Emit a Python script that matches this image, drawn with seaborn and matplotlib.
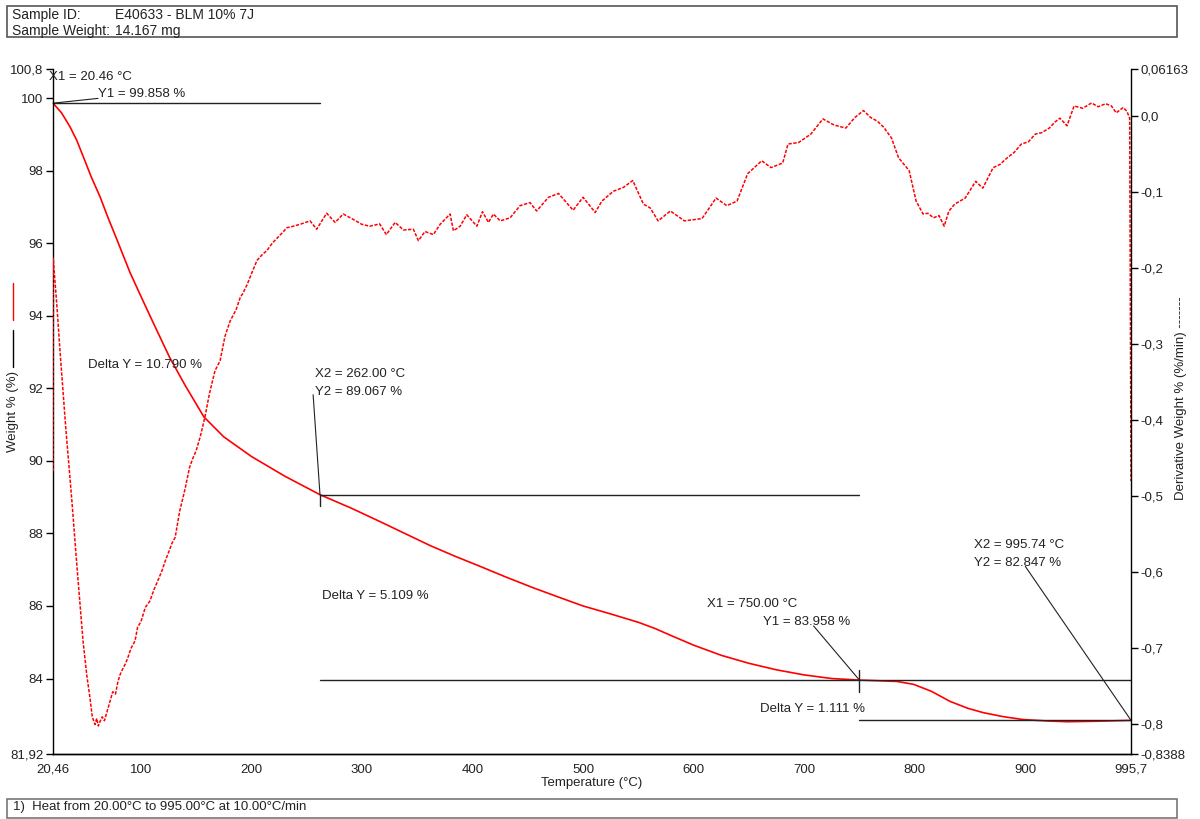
import matplotlib
matplotlib.use("Agg")
import matplotlib.pyplot as plt
from matplotlib.lines import Line2D
from matplotlib.patches import Rectangle
import seaborn as sns

TEMP_PESO = [20.46, 28, 35.8, 42, 47.9, 55, 63, 70, 78, 90, 99, 112, 126, 140,
             157, 175, 200, 230, 262, 290, 316, 340, 362, 385, 407, 430, 455,
             480, 500, 525, 550, 565, 580, 600, 625, 650, 675, 700, 725, 750,
             784, 799, 815, 832, 848, 862, 880, 898, 920, 938, 960, 980, 995.7]
PESO = [99.858, 99.6, 99.21, 98.83, 98.38, 97.83, 97.28, 96.72, 96.12, 95.2,
        94.6, 93.75, 92.85, 92.08, 91.21, 90.66, 90.12, 89.58, 89.067, 88.7,
        88.33, 87.98, 87.66, 87.36, 87.09, 86.8, 86.5, 86.22, 86.0, 85.78,
        85.55, 85.38, 85.18, 84.92, 84.64, 84.42, 84.24, 84.1, 84.0, 83.958,
        83.92, 83.84, 83.65, 83.37, 83.18, 83.06, 82.95, 82.87, 82.83, 82.81,
        82.82, 82.835, 82.847]

TEMP_DERIV = [20.46, 20.6, 24, 26.8, 32, 37.6, 42, 47.6, 51, 54, 56, 58.5, 60,
              61.5, 63, 65, 67, 69, 71, 74.5, 77, 79, 81, 83.8, 86, 88, 91,
              94.7, 97, 100, 104, 108, 112, 115, 119, 122, 126, 128, 131, 135,
              140, 144, 147, 150, 154, 158, 162, 167, 171.6, 176, 180.6, 186,
              190, 192, 196, 201, 205, 210, 214, 219, 225, 229, 232, 238,
              244, 253, 259, 268, 275.7, 283, 292, 299.8, 307, 316, 322, 330,
              337.5, 346.5, 351, 357, 364.6, 370.7, 379.7, 382.7, 388.8,
              394.8, 403.9, 409, 414.4, 418.9, 425, 434, 443, 452, 458, 468.7,
              477.8, 485, 491, 500, 511, 517, 527.5, 536.5, 545, 554.6, 560.7,
              567.9, 579, 591.7, 607.6, 620.3, 630, 639.3, 648.9, 661.6, 670,
              680.6, 685.4, 695, 706, 717, 727, 737.7, 746, 753.7, 760, 766.3,
              772, 779, 785.4, 795, 801.3, 807.6, 812, 817, 822, 826.7, 831,
              836.2, 845.7, 855.2, 861.6, 871, 877, 883.8, 890, 896.5, 903,
              909, 915, 921.8, 927, 931.4, 937.8, 944.2, 952, 960, 966, 972.8,
              978, 982.3, 988.6, 992, 994.5, 995.7]
DERIV = [-0.467, -0.187, -0.25, -0.309, -0.41, -0.507, -0.59, -0.69, -0.735,
         -0.766, -0.79, -0.80, -0.792, -0.802, -0.796, -0.79, -0.795, -0.785,
         -0.775, -0.757, -0.76, -0.745, -0.735, -0.726, -0.72, -0.713, -0.70,
         -0.69, -0.672, -0.665, -0.646, -0.638, -0.622, -0.612, -0.598,
         -0.585, -0.57, -0.562, -0.554, -0.52, -0.49, -0.462, -0.45, -0.44,
         -0.42, -0.395, -0.365, -0.335, -0.322, -0.29, -0.27, -0.255, -0.238,
         -0.234, -0.222, -0.204, -0.19, -0.182, -0.177, -0.167, -0.158,
         -0.152, -0.147, -0.145,
         -0.1425, -0.138, -0.149, -0.128, -0.140, -0.129, -0.136, -0.1425,
         -0.145, -0.142, -0.156, -0.140, -0.150, -0.149, -0.164, -0.152,
         -0.156, -0.1425, -0.129, -0.151, -0.145, -0.130, -0.145, -0.126,
         -0.140, -0.129, -0.138, -0.134, -0.118, -0.114, -0.125, -0.107,
         -0.102, -0.114, -0.124, -0.107, -0.127, -0.112, -0.099, -0.094,
         -0.085, -0.116, -0.121, -0.138, -0.125, -0.138, -0.135, -0.108,
         -0.118, -0.112, -0.076, -0.059, -0.068, -0.062, -0.037, -0.035,
         -0.024, -0.004, -0.012, -0.016, -0.002, 0.007, -0.002, -0.007,
         -0.015, -0.029, -0.055, -0.072, -0.112, -0.129, -0.128, -0.134,
         -0.131, -0.145, -0.125, -0.116, -0.108, -0.086, -0.095, -0.068,
         -0.064, -0.055, -0.048, -0.037, -0.034, -0.024, -0.022, -0.016,
         -0.008, -0.003, -0.013, 0.013, 0.010, 0.017, 0.012, 0.016, 0.013,
         0.004, 0.011, 0.006, -0.003, -0.48]

# cursores da análise (X, Y)
X_CUR = [20.46, 262.00, 750.00, 995.74]
Y_CUR = [99.858, 89.067, 83.958, 82.847]
DELTAS = ["Delta Y = 10.790 %", "Delta Y = 5.109 %", "Delta Y = 1.111 %"]

X_TICKS = [20.46, 100, 200, 300, 400, 500, 600, 700, 800, 900, 995.7]
X_LABELS = ["20,46", "100", "200", "300", "400", "500", "600", "700", "800",
            "900", "995,7"]
Y_TICKS = [81.92, 84, 86, 88, 90, 92, 94, 96, 98, 100, 100.8]
Y_LABELS = ["81,92", "84", "86", "88", "90", "92", "94", "96", "98", "100",
            "100,8"]
Y2_TICKS = [-0.8388, -0.8, -0.7, -0.6, -0.5, -0.4, -0.3, -0.2, -0.1, 0.0,
            0.06163]
Y2_LABELS = ["-0,8388", "-0,8", "-0,7", "-0,6", "-0,5", "-0,4", "-0,3",
             "-0,2", "-0,1", "0,0", "0,06163"]

sns.set_theme(style="white")
plt.rcParams["font.family"] = ["Liberation Sans", "DejaVu Sans"]
plt.rcParams["font.size"] = 9.5
TXT = "#222222"
W, H = 1200, 819


def px(x, y):
    """pixel da imagem -> fração da figura"""
    return x / W, 1 - y / H


fig = plt.figure(figsize=(12, 8.19), dpi=100)
ax = fig.add_axes([53 / W, 1 - 754 / H, (1131 - 53) / W, (754 - 69) / H])
ax2 = ax.twinx()

sns.lineplot(x=TEMP_PESO, y=PESO, ax=ax, color="#ff0000", linewidth=1.2,
             sort=False)
sns.lineplot(x=TEMP_DERIV, y=DERIV, ax=ax2, color="#ff0000", linewidth=1.1,
             sort=False)
ax2.lines[-1].set_dashes([2.2, 1.0])

ax.set_xlim(20.46, 995.7)
ax.set_ylim(81.92, 100.8)
ax2.set_ylim(-0.8388, 0.06163)
ax.set_xticks(X_TICKS, X_LABELS)
ax.set_yticks(Y_TICKS, Y_LABELS)
ax2.set_yticks(Y2_TICKS, Y2_LABELS)

for a in (ax, ax2):
    a.spines["top"].set_visible(False)
    for s in a.spines.values():
        s.set_color("black")
        s.set_linewidth(1.0)
    a.tick_params(direction="out", length=5, width=1, color="black",
                  labelcolor=TXT, labelsize=9.5, pad=2)
    a.grid(False)
ax.spines["right"].set_visible(False)
ax2.spines["left"].set_visible(False)
ax.set_xlabel("Temperature (°C)", color=TXT, fontsize=9.5, labelpad=1)
ax.set_ylabel("")
ax2.set_ylabel("")

# ---- linhas dos cursores ---------------------------------------------------
k = dict(color="#222222", lw=1.0)
ax.plot([X_CUR[0], X_CUR[1]], [Y_CUR[0], Y_CUR[0]], **k)
ax.plot([X_CUR[1], X_CUR[2]], [Y_CUR[1], Y_CUR[1]], **k)
ax.plot([X_CUR[1], X_CUR[3]], [Y_CUR[2], Y_CUR[2]], **k)
ax.plot([X_CUR[2], X_CUR[3]], [Y_CUR[3], Y_CUR[3]], **k)
ax.plot([X_CUR[1], X_CUR[1]], [Y_CUR[1], 88.76], **k)
ax.plot([X_CUR[2], X_CUR[2]], [84.24, 83.64], **k)
# linhas-guia até os rótulos
ax.plot([X_CUR[0], 61.2], [Y_CUR[0], 99.99], color="#222222", lw=0.8,
        clip_on=False)
ax.plot([255.8, X_CUR[1]], [91.82, Y_CUR[1]], color="#222222", lw=0.8)
ax.plot([708.5, X_CUR[2]], [85.45, Y_CUR[2]], color="#222222", lw=0.8)
ax.plot([900.1, X_CUR[3]], [87.09, Y_CUR[3]], color="#222222", lw=0.8,
        clip_on=False)

lab = dict(color=TXT, fontsize=9.5, ha="left", va="center", clip_on=False)
ax.text(17.0, 100.58, f"X1 = {X_CUR[0]:.2f} °C", **lab)
ax.text(61.5, 100.11, f"Y1 = {Y_CUR[0]:.3f} %", **lab)
ax.text(52.1, 92.64, DELTAS[0], **lab)
ax.text(257.6, 92.40, f"X2 = {X_CUR[1]:.2f} °C", **lab)
ax.text(257.6, 91.89, f"Y2 = {Y_CUR[1]:.3f} %", **lab)
ax.text(263.6, 86.28, DELTAS[1], **lab)
ax.text(612.0, 86.06, f"X1 = {X_CUR[2]:.2f} °C", **lab)
ax.text(662.7, 85.556, f"Y1 = {Y_CUR[2]:.3f} %", **lab)
ax.text(660.3, 83.16, DELTAS[2], **lab)
ax.text(853.3, 87.69, f"X2 = {X_CUR[3]:.2f} °C", **lab)
ax.text(853.3, 87.18, f"Y2 = {Y_CUR[3]:.3f} %", **lab)

# ---- títulos dos eixos com a legenda de estilo ------------------------------
fig.text(*px(13, 412), "Weight % (%)", rotation=90, ha="center",
         va="center", color=TXT, fontsize=9.5)
fig.add_artist(Line2D([13 / W] * 2, [1 - 283 / H, 1 - 320 / H],
                      color="#ff0000", lw=1.0))
fig.add_artist(Line2D([13 / W] * 2, [1 - 330 / H, 1 - 367 / H],
                      color="black", lw=1.0))
fig.text(*px(1181, 398), "Derivative Weight % (%/min) -------", rotation=90,
         ha="center", va="center", color=TXT, fontsize=9.5)

# ---- caixas de cabeçalho e rodapé ------------------------------------------
fig.add_artist(Rectangle(px(7, 37), 1170 / W, 31 / H, fill=False,
                         edgecolor="#555555", lw=1.2,
                         transform=fig.transFigure))
fig.text(*px(12, 15), "Sample ID:", va="center", color=TXT, fontsize=10)
fig.text(*px(115, 15), "E40633 - BLM 10% 7J", va="center", color=TXT,
         fontsize=10)
fig.text(*px(12, 31), "Sample Weight:", va="center", color=TXT, fontsize=10)
fig.text(*px(115, 31), "14.167 mg", va="center", color=TXT, fontsize=10)

fig.add_artist(Rectangle(px(7, 818), 1170 / W, 19 / H, fill=False,
                         edgecolor="#777777", lw=1.2,
                         transform=fig.transFigure))
fig.text(*px(13, 807), "1)  Heat from 20.00°C to 995.00°C at 10.00°C/min",
         va="center", color=TXT, fontsize=9.5)

fig.savefig("out.png", dpi=100, facecolor="white")
